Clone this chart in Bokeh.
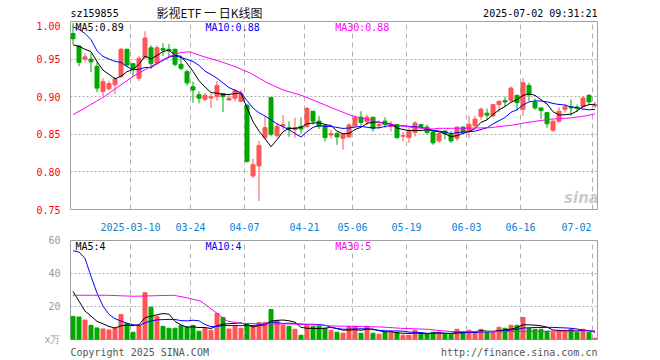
from bokeh.plotting import figure
from bokeh.layouts import column
from bokeh.models import (Range1d, FixedTicker, Label, ColumnDataSource, PrintfTickFormatter,
                          CustomJSTickFormatter)
from bokeh.embed import file_html
from bokeh.resources import INLINE

code = "sz159855"
title = "影视ETF 一 日K线图"
stamp = "2025-07-02 09:31:21"
copyright_text = "Copyright 2025 SINA.COM"
url_text = "http://finance.sina.com.cn"
unit_text = "x万"

tick_idx = [10, 20, 29, 39, 47, 56, 66, 75, 87]
tick_labels = ["2025-03-10", "03-24", "04-07", "04-21", "05-06", "05-19", "06-03", "06-16", "07-02"]
vol_ticks = [0, 20, 40, 60]
vol_tick_labels = [unit_text, "20", "40", "60"]

opens = [0.984, 0.9675, 0.950, 0.950, 0.9404, 0.907, 0.9105, 0.9158, 0.927, 0.963,
         0.9439, 0.9246, 0.9518, 0.965, 0.9447, 0.964, 0.963, 0.963, 0.943, 0.9333,
         0.9132, 0.9026, 0.8965, 0.8982, 0.900, 0.9044, 0.8956, 0.898, 0.8939, 0.8886,
         0.7947, 0.8079, 0.8456, 0.899, 0.8482, 0.8614, 0.8588, 0.8561, 0.8605, 0.8605,
         0.8807, 0.8675, 0.8614, 0.8491, 0.8509, 0.8447, 0.8465, 0.8614, 0.8728, 0.8667,
         0.8728, 0.8614, 0.8675, 0.8605, 0.863, 0.8474, 0.8456, 0.8526, 0.863, 0.8596,
         0.8526, 0.8412, 0.8544, 0.8509, 0.8447, 0.8596, 0.8535, 0.8614, 0.8737, 0.8781,
         0.8746, 0.8895, 0.8947, 0.8947, 0.9018, 0.8833, 0.9149, 0.893, 0.8851, 0.8789,
         0.8553, 0.8675, 0.8833, 0.8868, 0.886, 0.8868, 0.9018, 0.8877]
highs = [0.998, 0.968, 0.958, 0.959, 0.9465, 0.9246, 0.921, 0.926, 0.965, 0.964,
         0.9447, 0.9544, 0.987, 0.9684, 0.9684, 0.971, 0.970, 0.964, 0.9544, 0.936,
         0.920, 0.907, 0.9044, 0.9044, 0.921, 0.905, 0.9026, 0.9105, 0.909, 0.8904,
         0.8175, 0.8412, 0.8737, 0.899, 0.865, 0.8754, 0.8675, 0.872, 0.8728, 0.8868,
         0.8807, 0.8746, 0.863, 0.8561, 0.8526, 0.8509, 0.865, 0.8746, 0.8807, 0.8763,
         0.8728, 0.8684, 0.8728, 0.8675, 0.864, 0.8535, 0.8588, 0.8675, 0.864, 0.863,
         0.8544, 0.8535, 0.855, 0.8544, 0.8605, 0.8605, 0.8746, 0.8746, 0.886, 0.8842,
         0.8904, 0.8947, 0.900, 0.914, 0.9026, 0.9246, 0.9184, 0.8974, 0.8851, 0.8798,
         0.8684, 0.886, 0.8895, 0.8965, 0.8895, 0.9009, 0.9035, 0.893]
lows = [0.970, 0.9404, 0.9456, 0.9325, 0.906, 0.901, 0.908, 0.9035, 0.9254, 0.9395,
        0.926, 0.921, 0.950, 0.937, 0.942, 0.9544, 0.953, 0.9404, 0.935, 0.915,
        0.892, 0.891, 0.8939, 0.885, 0.8947, 0.8798, 0.8947, 0.894, 0.893, 0.8123,
        0.792, 0.7614, 0.843, 0.8474, 0.8456, 0.8561, 0.8465, 0.8456, 0.8509, 0.8579,
        0.863, 0.857, 0.8404, 0.8447, 0.836, 0.8298, 0.8456, 0.8596, 0.8605, 0.8623,
        0.8535, 0.857, 0.8588, 0.8535, 0.8439, 0.8404, 0.8386, 0.8474, 0.857, 0.850,
        0.836, 0.8386, 0.843, 0.8386, 0.8412, 0.8526, 0.8447, 0.8588, 0.8693, 0.8693,
        0.8728, 0.8798, 0.8868, 0.893, 0.8816, 0.8746, 0.8939, 0.8825, 0.8702, 0.8588,
        0.8535, 0.865, 0.8789, 0.8746, 0.8798, 0.8851, 0.8895, 0.8851]
closes = [0.977, 0.9456, 0.953, 0.9465, 0.9114, 0.920, 0.9175, 0.9237, 0.963, 0.942,
          0.936, 0.951, 0.978, 0.944, 0.965, 0.962, 0.961, 0.943, 0.9377, 0.9184,
          0.9088, 0.898, 0.9018, 0.900, 0.915, 0.900, 0.898, 0.908, 0.9044, 0.814,
          0.8096, 0.835, 0.8588, 0.850, 0.8605, 0.863, 0.857, 0.8588, 0.857, 0.8842,
          0.8675, 0.8605, 0.8456, 0.8509, 0.8465, 0.850, 0.8623, 0.8719, 0.8658, 0.8728,
          0.8579, 0.863, 0.863, 0.8623, 0.8456, 0.8482, 0.8553, 0.865, 0.8605, 0.8526,
          0.8386, 0.8509, 0.8509, 0.8412, 0.8596, 0.8535, 0.8632, 0.8702, 0.8833, 0.8754,
          0.8895, 0.8939, 0.893, 0.9114, 0.8921, 0.9184, 0.9026, 0.8851, 0.8816, 0.864,
          0.8675, 0.8807, 0.8868, 0.8851, 0.8842, 0.8982, 0.893, 0.8895]
volumes = [14, 13.6, 11.8, 8.6, 7, 6.4, 5.8, 7, 15.2, 9.6,
           4.4, 8.6, 28.4, 19.6, 14, 8, 6.8, 6.8, 8.4, 7.6,
           8.6, 5, 6.6, 5.6, 15.8, 13.4, 6.4, 8, 6.8, 9.4,
           7.6, 10.2, 10.4, 18.2, 11.6, 8.6, 8, 6.2, 2.6, 8.6,
           8, 8, 6.8, 5.6, 4.4, 3.8, 8, 8, 3.8, 8,
           3.8, 3.2, 4.4, 4.4, 4.4, 2.6, 2.6, 5.6, 3.2, 3.2,
           4.4, 4.4, 3.2, 3.2, 6.2, 4.4, 5.6, 4.4, 6.2, 4.4,
           4.4, 7.4, 6.8, 8.6, 8.6, 13.4, 6.8, 6.2, 6.2, 5,
           4.4, 5.6, 5.6, 6.2, 4.4, 6.2, 4.4, 0.8]

# moving-average values before enough history exists
ma5_head = [0.969, 0.967, 0.963, 0.960]
ma10_head = [0.993, 0.9895, 0.984, 0.976, 0.961, 0.9535, 0.950, 0.947, 0.9456]
ma30_idx = [0, 5, 10, 16, 18, 19.5, 21.5, 24.5, 27, 29.5, 32.5, 35, 38, 40.5, 43.5,
            46.5, 49, 51.5, 54.5, 57, 60, 61, 65.5, 69.5, 73, 76.5, 79.5, 83, 85.5, 87]
ma30_val = [0.876, 0.899, 0.927, 0.9535, 0.9588, 0.9596, 0.954, 0.947, 0.940, 0.9316,
            0.918, 0.909, 0.902, 0.894, 0.884, 0.8746, 0.870, 0.865, 0.8614, 0.8588,
            0.857, 0.858, 0.858, 0.8588, 0.862, 0.8667, 0.870, 0.8719, 0.8746, 0.8772]
vma5_head = [29.2, 23.2, 17.2, 14.2]
vma10_head = [53.8, 53.0, 49.2, 38.2, 28.2, 20.2, 15.2, 12.6, 11.2]
vma30_idx = [0, 5.7, 10.2, 16.8, 19.1, 21.3, 23.5, 25.7, 27.9, 32.4, 38, 43, 51.3, 54.6, 59, 63, 70.8, 87]
vma30_val = [26.8, 26.8, 26.2, 26.8, 25.2, 23.2, 17.2, 11.2, 9.8, 9.4, 9.4, 8.2, 7.6, 6.8, 6.2, 4.8, 4.8, 5.2]

RED = "#ff5555"
GREEN = "#00a800"
MONO = "DejaVu Sans Mono"
FRAME = "#a0a0a0"
GRIDC = "#b0b0b0"
W = 640
BL, BR = 70, 43
HDR_H = 21


def sma(vals, k, head):
    out = list(head)
    for i in range(len(head), len(vals)):
        out.append(sum(vals[i - k + 1:i + 1]) / k)
    return out


def bare_axis(ax):
    ax.axis_line_color = None
    ax.major_tick_line_color = None
    ax.minor_tick_line_color = None


n = len(closes)
xs = list(range(n))
ma5 = sma(closes, 5, ma5_head)
ma10 = sma(closes, 10, ma10_head)
vma5 = sma(volumes, 5, vma5_head)
vma10 = sma(volumes, 10, vma10_head)

colors = [RED if c >= o else GREEN for o, c in zip(opens, closes)]
src = ColumnDataSource(dict(
    x=xs, o=opens, h=highs, l=lows, c=closes,
    top=[max(o, c) for o, c in zip(opens, closes)],
    bot=[min(o, c) for o, c in zip(opens, closes)],
    color=colors, vol=volumes))

px = 6.0  # pixels per trading day
x0 = -2.5 / px
xr = Range1d(x0, x0 + 527 / px)
grid_x = [i - 2.5 / px for i in tick_idx]
label_x = grid_x[:-1] + [grid_x[-1] - 16 / px]

# ---------------- header strip ----------------
hdr = figure(width=W, height=HDR_H, x_range=xr, y_range=Range1d(0, HDR_H),
             output_backend="svg", toolbar_location=None,
             x_axis_location=None, y_axis_location=None,
             min_border_left=BL, min_border_right=BR, min_border_top=0, min_border_bottom=0)
hdr.outline_line_color = None
hdr.xgrid.visible = False
hdr.ygrid.visible = False
hdr.add_layout(Label(x=x0, y=HDR_H - 12.5, text=code, text_font=MONO, text_font_size="10px",
                     text_baseline="middle", text_align="left", text_color="black"))
hdr.add_layout(Label(x=x0 + 139 / px, y=HDR_H - 11.5, text=title, text_font="Noto Sans CJK SC",
                     text_font_size="12px", text_baseline="middle", text_align="center",
                     text_color="#111111"))
hdr.add_layout(Label(x=xr.end, y=HDR_H - 12.5, text=stamp, text_font=MONO, text_font_size="10px",
                     text_baseline="middle", text_align="right", text_color="black"))

# ---------------- main price panel ----------------
p1 = figure(width=W, height=212, x_range=xr, y_range=Range1d(0.75, 1.00),
            output_backend="svg", toolbar_location=None,
            min_border_left=BL, min_border_right=BR, min_border_top=0, min_border_bottom=21)
p1.outline_line_color = FRAME
p1.outline_line_width = 1
p1.xgrid.ticker = FixedTicker(ticks=grid_x)
p1.xgrid.grid_line_color = GRIDC
p1.xgrid.grid_line_dash = "5 4"
p1.ygrid.ticker = FixedTicker(ticks=[0.80, 0.85, 0.90, 0.95])
p1.ygrid.grid_line_color = GRIDC
p1.ygrid.grid_line_dash = "2 2"

p1.yaxis.ticker = FixedTicker(ticks=[0.75, 0.80, 0.85, 0.90, 0.95, 1.00])
p1.yaxis.formatter = PrintfTickFormatter(format="%.2f")
p1.yaxis.major_label_text_color = "#ff0000"
p1.yaxis.major_label_text_font = MONO
p1.yaxis.major_label_text_font_size = "10px"
p1.yaxis.major_label_standoff = 4
bare_axis(p1.yaxis)

p1.xaxis.ticker = FixedTicker(ticks=label_x)
p1.xaxis.formatter = CustomJSTickFormatter(args=dict(labels=tick_labels), code="return labels[index];")
p1.xaxis.major_label_text_color = "#0a84d0"
p1.xaxis.major_label_text_font = MONO
p1.xaxis.major_label_text_font_size = "10px"
p1.xaxis.major_label_standoff = 7
bare_axis(p1.xaxis)

p1.segment(x0="x", y0="l", x1="x", y1="h", color="color", line_width=1, source=src)
p1.vbar(x="x", width=4 / px, top="top", bottom="bot", fill_color="color",
        line_color="color", line_width=1, source=src)
p1.line(xs, ma5, color="black", line_width=1)
p1.line(xs, ma10, color="#0000ff", line_width=1)
p1.line(ma30_idx, ma30_val, color="#ff00ff", line_width=1)

ly = 1.0
p1.add_layout(Label(x=x0 + 5 / px, y=ly, text=f"MA5:{ma5[-1]:.2f}", text_font=MONO, text_font_size="10px",
                    text_baseline="top", text_color="black"))
p1.add_layout(Label(x=x0 + 135 / px, y=ly, text=f"MA10:{ma10[-1]:.2f}", text_font=MONO, text_font_size="10px",
                    text_baseline="top", text_color="#0000ff"))
p1.add_layout(Label(x=x0 + 264.7 / px, y=ly, text=f"MA30:{ma30_val[-1]:.2f}", text_font=MONO,
                    text_font_size="10px", text_baseline="top", text_color="#ff00ff"))
p1.add_layout(Label(x=x0 + 511 / px, y=0.765, text="sina", text_font="DejaVu Sans", text_font_size="15px",
                    text_font_style="bold italic", text_baseline="middle", text_align="center",
                    text_color="#bdbdbd", text_alpha=0.8))

# ---------------- volume panel ----------------
copy_x = [x0 + 69.2 / px, x0 + 448.7 / px]
p2 = figure(width=W, height=127, x_range=xr, y_range=Range1d(0, 60),
            output_backend="svg", toolbar_location=None,
            min_border_left=BL, min_border_right=BR, min_border_top=7, min_border_bottom=20)
p2.outline_line_color = FRAME
p2.outline_line_width = 1
p2.xgrid.ticker = FixedTicker(ticks=grid_x)
p2.xgrid.grid_line_color = GRIDC
p2.xgrid.grid_line_dash = "5 4"
p2.ygrid.ticker = FixedTicker(ticks=[20, 40])
p2.ygrid.grid_line_color = GRIDC
p2.ygrid.grid_line_dash = "2 2"

p2.xaxis.ticker = FixedTicker(ticks=copy_x)
p2.xaxis.formatter = CustomJSTickFormatter(
    args=dict(labels=[copyright_text, url_text]), code="return labels[index];")
p2.xaxis.major_label_text_color = "#555555"
p2.xaxis.major_label_text_font = MONO
p2.xaxis.major_label_text_font_size = "10px"
p2.xaxis.major_label_standoff = 1
bare_axis(p2.xaxis)

p2.yaxis.ticker = FixedTicker(ticks=vol_ticks)
p2.yaxis.formatter = CustomJSTickFormatter(args=dict(labels=vol_tick_labels), code="return labels[index];")
p2.yaxis.major_label_text_color = "#9a9a9a"
p2.yaxis.major_label_text_font = MONO
p2.yaxis.major_label_text_font_size = "10px"
p2.yaxis.major_label_standoff = 4
bare_axis(p2.yaxis)

p2.vbar(x="x", width=4 / px, top="vol", bottom=0, fill_color="color",
        line_color="color", line_width=1, source=src)
p2.line(xs, vma5, color="black", line_width=1)
p2.line(xs, vma10, color="#0000ff", line_width=1)
p2.line(vma30_idx, vma30_val, color="#ff00ff", line_width=1)

p2.add_layout(Label(x=x0 + 5 / px, y=60, text="MA5:4", text_font=MONO, text_font_size="10px",
                    text_baseline="top", text_color="black"))
p2.add_layout(Label(x=x0 + 135 / px, y=60, text="MA10:4", text_font=MONO, text_font_size="10px",
                    text_baseline="top", text_color="#0000ff"))
p2.add_layout(Label(x=x0 + 264.7 / px, y=60, text="MA30:5", text_font=MONO, text_font_size="10px",
                    text_baseline="top", text_color="#ff00ff"))

layout = column(hdr, p1, p2, spacing=0)
open("out.html", "w").write(file_html(layout, INLINE))
